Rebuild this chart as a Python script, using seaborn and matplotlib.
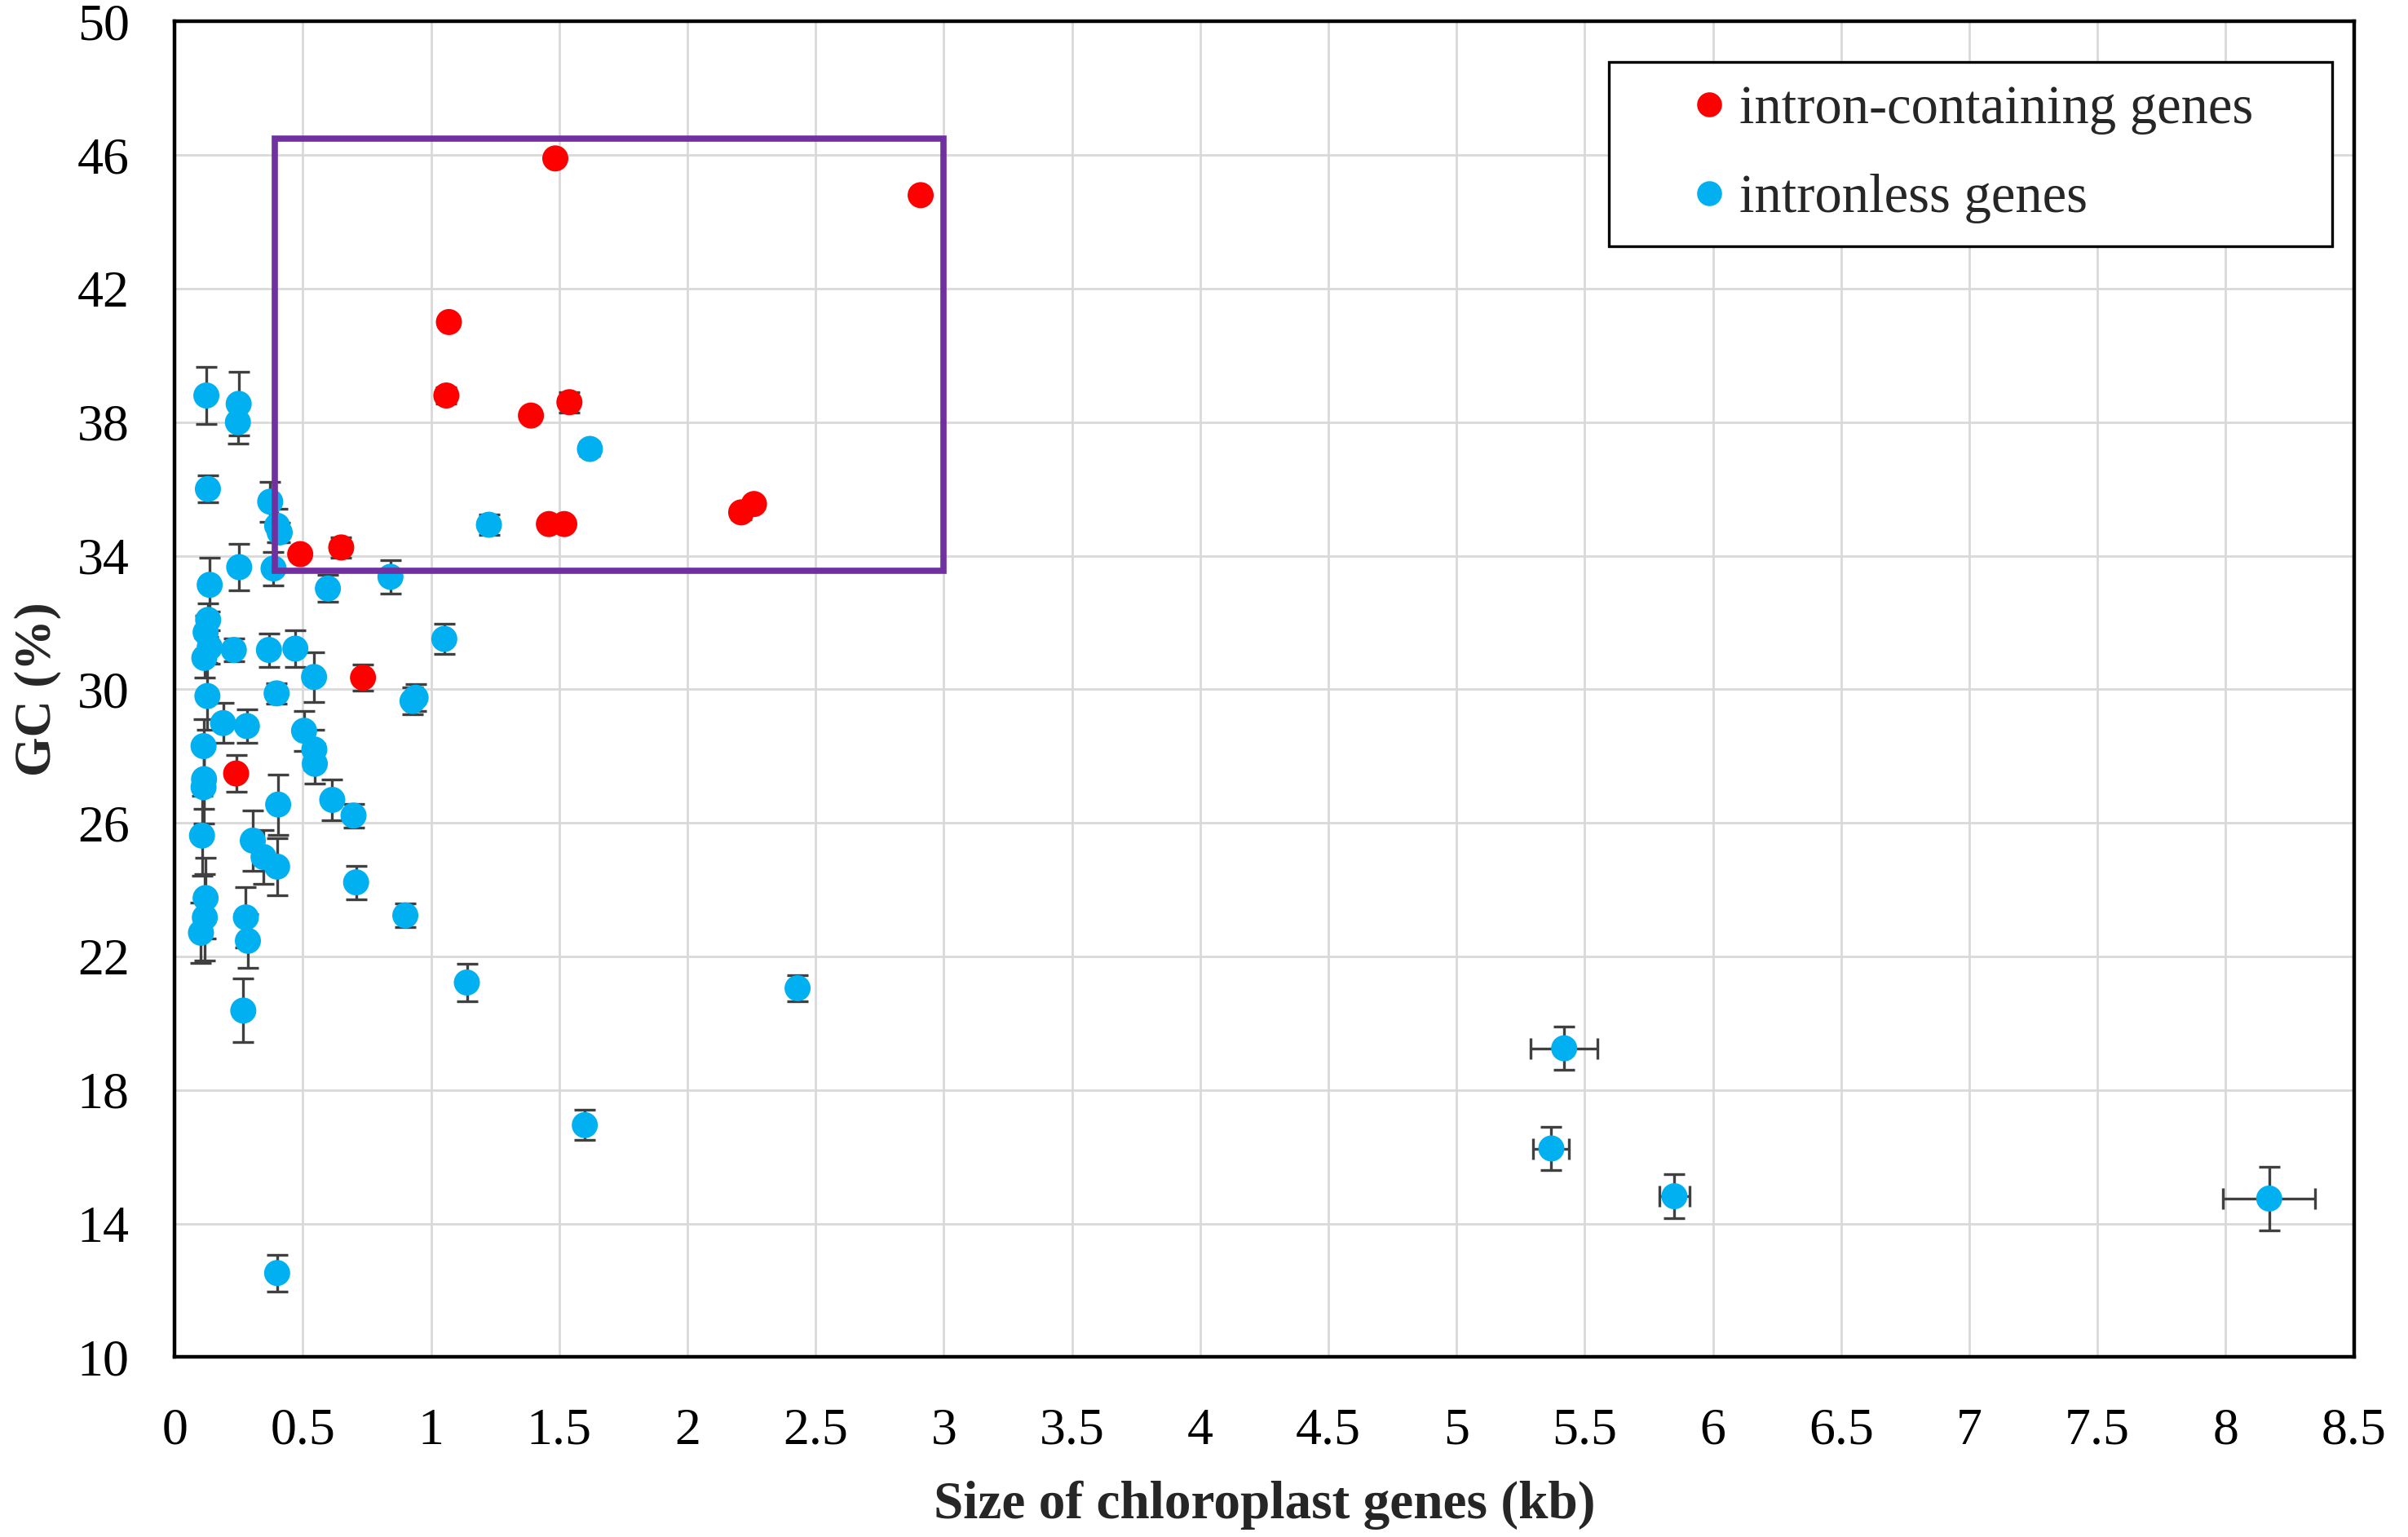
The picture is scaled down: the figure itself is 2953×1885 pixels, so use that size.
import numpy as np
import pandas as pd
import matplotlib
matplotlib.use("Agg")
import matplotlib.pyplot as plt
import seaborn as sns
from matplotlib.patches import Rectangle
from matplotlib.lines import Line2D

# ---------------- data ----------------
intron_size = [1.485, 2.91, 1.07, 1.06, 1.39, 1.54, 1.46, 1.52, 2.21, 2.26, 0.49, 0.65, 0.735, 0.24]
intron_gc = [45.9, 44.8, 41.0, 38.8, 38.2, 38.6, 34.95, 34.95, 35.3, 35.55, 34.05, 34.25, 30.35, 27.48]
intron_gc_err = [0.15, 0.1, 0.1, 0.25, 0.1, 0.3, 0.1, 0.1, 0.2, 0.15, 0.1, 0.3, 0.4, 0.55]

intronless_size = [0.124, 0.25, 0.247, 0.13, 0.373, 0.40, 0.41, 0.252, 0.386, 0.137,
                   0.598, 0.842, 1.226, 1.62, 1.052, 0.131, 0.121, 0.137, 0.116, 0.231,
                   0.368, 0.471, 0.544, 0.928, 0.94, 0.128, 0.398, 0.189, 0.282, 0.113,
                   0.115, 0.113, 0.404, 0.505, 0.545, 0.547, 0.615, 0.698, 0.107, 0.305,
                   0.347, 0.40, 0.708, 0.121, 0.118, 0.103, 0.278, 0.286, 0.90, 1.14,
                   0.268, 0.40, 2.43, 1.60, 5.42, 5.37, 5.85, 8.17]
intronless_gc = [38.8, 38.55, 38.0, 36.0, 35.62, 34.9, 34.7, 33.66, 33.62, 33.13,
                 33.02, 33.37, 34.93, 37.2, 31.51, 32.08, 31.71, 31.26, 30.94, 31.18,
                 31.18, 31.22, 30.37, 29.65, 29.75, 29.8, 29.88, 28.99, 28.9, 28.3,
                 27.31, 27.07, 26.55, 28.76, 28.2, 27.77, 26.69, 26.22, 25.62, 25.47,
                 24.98, 24.69, 24.22, 23.75, 23.17, 22.71, 23.17, 22.47, 23.23, 21.22,
                 20.38, 12.52, 21.05, 16.95, 19.25, 16.25, 14.82, 14.75]
intronless_gc_err = [0.85, 0.95, 0.65, 0.4, 0.6, 0.5, 0.3, 0.7, 0.5, 0.8,
                     0.4, 0.5, 0.3, 0.2, 0.45, 0.5, 0.5, 0.5, 0.6, 0.35,
                     0.5, 0.55, 0.75, 0.4, 0.4, 1.0, 0.3, 0.6, 0.5, 0.8,
                     0.9, 1.1, 0.9, 0.6, 0.6, 0.6, 0.6, 0.35, 1.2, 0.9,
                     0.8, 0.85, 0.5, 1.2, 1.3, 0.9, 0.9, 0.8, 0.35, 0.55,
                     0.95, 0.55, 0.4, 0.45, 0.65, 0.65, 0.65, 0.95]
intronless_size_err = [0]*54 + [0.13, 0.07, 0.06, 0.18]

box_x = [0.39, 3.0]
box_y = [33.55, 46.5]

x_ticks = [0, 0.5, 1, 1.5, 2, 2.5, 3, 3.5, 4, 4.5, 5, 5.5, 6, 6.5, 7, 7.5, 8, 8.5]
y_ticks = [10, 14, 18, 22, 26, 30, 34, 38, 42, 46, 50]

labels = ["intron-containing genes", "intronless genes"]
colors = {"intron-containing genes": "#FF0000", "intronless genes": "#00B0F0"}

df = pd.concat([
    pd.DataFrame({"size": intron_size, "gc": intron_gc, "gc_err": intron_gc_err,
                  "size_err": [0]*len(intron_size), "type": labels[0]}),
    pd.DataFrame({"size": intronless_size, "gc": intronless_gc, "gc_err": intronless_gc_err,
                  "size_err": intronless_size_err, "type": labels[1]}),
], ignore_index=True)

# ---------------- plot ----------------
sns.set_theme(style="white")
plt.rcParams["font.family"] = ["Liberation Serif", "DejaVu Serif"]

fig = plt.figure(figsize=(29.53, 18.85), dpi=100)
ax = fig.add_axes([0.0725, 0.117, 0.905, 0.869])

for lab in labels:
    d = df[df["type"] == lab]
    xe = d["size_err"].values
    ax.errorbar(d["size"], d["gc"], yerr=d["gc_err"], xerr=np.where(xe > 0, xe, np.nan),
                fmt="none", ecolor="#404040", elinewidth=2.4, capsize=9.5, capthick=2.4, zorder=2)

sns.scatterplot(data=df, x="size", y="gc", hue="type", palette=colors, hue_order=labels,
                s=530, linewidth=0, ax=ax, zorder=3, legend=False)

ax.add_patch(Rectangle((box_x[0], box_y[0]), box_x[1] - box_x[0], box_y[1] - box_y[0],
                       fill=False, edgecolor="#7030A0", linewidth=5.5, zorder=4))

ax.set_xlim(0, 8.5)
ax.set_ylim(10, 50)
ax.set_xticks(x_ticks)
ax.set_xticklabels([f"{t:g}" for t in x_ticks])
ax.set_yticks(y_ticks)
ax.grid(True, color="#D9D9D9", linewidth=2)
ax.set_axisbelow(True)
for sp in ax.spines.values():
    sp.set_color("black")
    sp.set_linewidth(3.2)
ax.tick_params(axis="both", labelsize=46, length=0, colors="black")
ax.tick_params(axis="x", pad=45)
ax.tick_params(axis="y", pad=40)

ax.set_xlabel("Size of chloroplast genes (kb)", fontsize=47, fontweight="bold", labelpad=22)
ax.set_ylabel("GC (%)", fontsize=45, fontweight="bold", labelpad=14)

# legend: entries without frame, frame drawn as a rectangle in axes coordinates
handles = [Line2D([0], [0], marker="o", linestyle="none", markerfacecolor=colors[l],
                  markeredgewidth=0, markersize=22) for l in labels]
leg = ax.legend(handles, labels, loc="center left", bbox_to_anchor=(0.6967, 0.9005),
                fontsize=48, frameon=False, borderpad=0, labelspacing=0.72,
                handletextpad=0.25, handlelength=0.6, borderaxespad=0)
leg.set_zorder(6)
ax.add_patch(Rectangle((0.658, 0.832), 0.332, 0.138, transform=ax.transAxes,
                       facecolor="white", edgecolor="black", linewidth=2.4, zorder=5))

fig.savefig("out.png", dpi=100)
